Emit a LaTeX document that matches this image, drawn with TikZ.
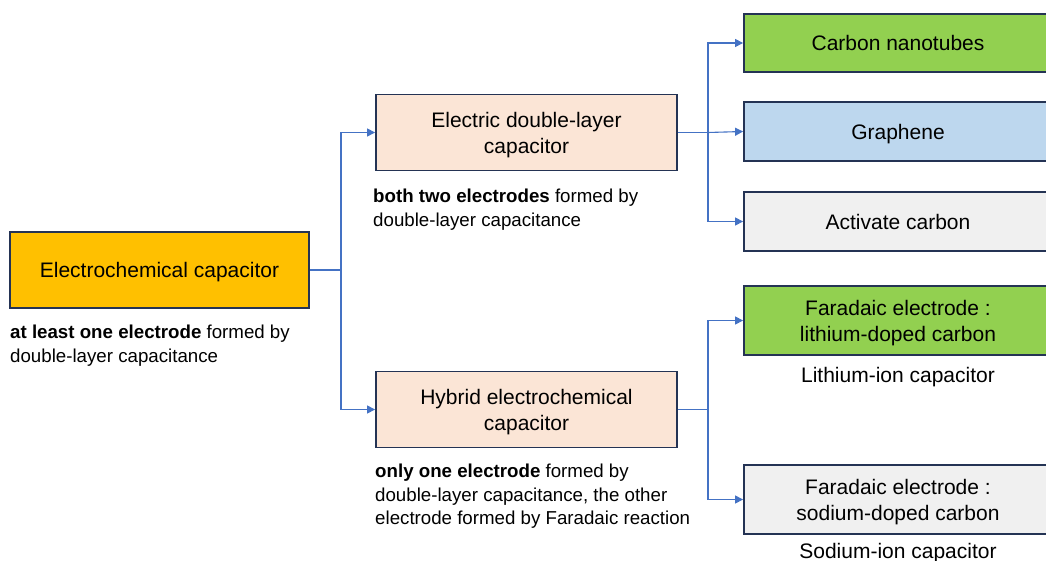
\documentclass[tikz,border=0pt]{standalone}
\usepackage{fontspec}
\setmainfont{Liberation Sans}
\usetikzlibrary{arrows.meta}

\definecolor{boxline}{HTML}{243354}
\definecolor{linkblue}{HTML}{4472C4}
\definecolor{ecorange}{HTML}{FFC000}
\definecolor{peach}{HTML}{FBE5D6}
\definecolor{leaf}{HTML}{92D050}
\definecolor{sky}{HTML}{BDD7EE}
\definecolor{ash}{HTML}{F0F0F0}

\tikzset{
    box/.style={draw=boxline, line width=1.8pt, align=center, inner sep=0pt,
        text depth=0pt, font=\fontsize{21}{26}\selectfont},
    note/.style={align=left, inner sep=0pt, anchor=north west,
        font=\fontsize{18.7}{23.3}\selectfont},
    caption/.style={inner sep=0pt, font=\fontsize{21}{26}\selectfont},
    conn/.style={draw=linkblue, line width=1.1pt,
        -{Triangle[length=8pt,width=8pt]}},
}

\begin{document}
\begin{tikzpicture}[x=1pt, y=-1pt]
    \useasboundingbox (0,0) rectangle (1046,561);

    % main class
    \node[box, fill=ecorange, minimum width=299pt, minimum height=76pt] (ec) at (159.5,270) {Electrochemical capacitor};
    \node[note] (ecnote) at (10,325) {\textbf{at least one electrode} formed by\\double-layer capacitance};

    % two sub classes
    \node[box, fill=peach, minimum width=301pt, minimum height=76pt] (edlc) at (526.5,132.5) {Electric double-layer\\capacitor};
    \node[note] (edlcnote) at (373,189) {\textbf{both two electrodes} formed by\\double-layer capacitance};

    \node[box, fill=peach, minimum width=301pt, minimum height=76pt] (hec) at (526.5,409.5) {Hybrid electrochemical\\capacitor};
    \node[note] (hecnote) at (375,464) {\textbf{only one electrode} formed by\\double-layer capacitance, the other\\electrode formed by Faradaic reaction};

    % electrode materials (right column runs off the page edge)
    \node[box, fill=leaf, minimum width=308pt, minimum height=58pt] (cnt) at (898,43) {Carbon nanotubes};
    \node[box, fill=sky, minimum width=308pt, minimum height=59pt] (gra) at (898,131.5) {Graphene};
    \node[box, fill=ash, minimum width=308pt, minimum height=59pt] (act) at (898,221.5) {Activate carbon};
    \node[box, fill=leaf, minimum width=308pt, minimum height=69pt] (li) at (898,320.5) {Faradaic electrode :\\lithium-doped carbon};
    \node[box, fill=ash, minimum width=308pt, minimum height=69pt] (na) at (898,499.5) {Faradaic electrode :\\sodium-doped carbon};

    \node[caption] (lic) at (898,377) {Lithium-ion capacitor};
    \node[caption] (nic) at (898,553) {Sodium-ion capacitor};

    % connectors
    \coordinate (j1) at (341,270);
    \coordinate (j2) at (708,132.5);
    \coordinate (j3) at (708,409.5);

    \draw[conn] (ec.east) -- (j1) |- (edlc.west);
    \draw[conn] (j1) |- (hec.west);

    \draw[conn] (edlc.east) -- (j2) |- (cnt.west);
    \draw[conn] (j2) -- (gra.west);
    \draw[conn] (j2) |- (act.west);

    \draw[conn] (hec.east) -- (j3) |- (li.west);
    \draw[conn] (j3) |- (na.west);
\end{tikzpicture}
\end{document}
